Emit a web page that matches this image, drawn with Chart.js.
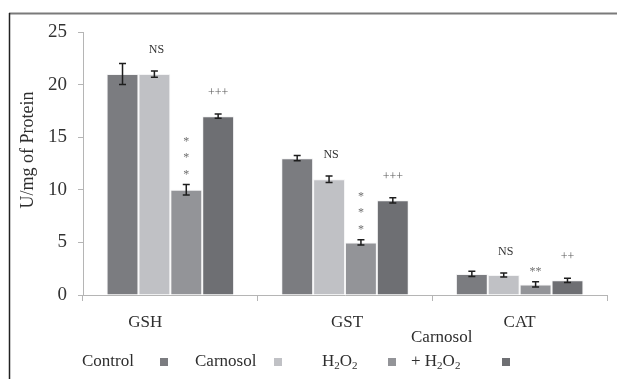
<!DOCTYPE html>
<html>
<head>
<meta charset="utf-8">
<script src="https://cdn.jsdelivr.net/npm/chart.js@4/dist/chart.umd.min.js"></script>
<style>
html,body{margin:0;padding:0;background:#fff;}
canvas{display:block;}
</style>
</head>
<body>
<canvas id="c" width="617" height="379"></canvas>
<script>
const categories = ['GSH', 'GST', 'CAT'];
const seriesNames = ['Control', 'Carnosol', 'H2O2', 'Carnosol + H2O2'];
const seriesColors = ['#7b7c80', '#c0c1c5', '#939498', '#6e6f73'];
const controlValues = [21, 13, 2.0];
const carnosolValues = [21, 11, 1.9];
const h2o2Values = [10, 5, 1.0];
const comboValues = [17, 9, 1.4];
const controlErr = [1.0, 0.25, 0.25];
const carnosolErr = [0.3, 0.3, 0.2];
const h2o2Err = [0.5, 0.25, 0.25];
const comboErr = [0.2, 0.25, 0.2];
const carnosolMarks = ['NS', 'NS', 'NS'];
const h2o2Marks = ['*\n*\n*', '*\n*\n*', '**'];
const comboMarks = ['+++', '+++', '++'];
const yTicks = [0, 5, 10, 15, 20, 25];
const yTitle = 'U/mg of Protein';

const seriesValues = [controlValues, carnosolValues, h2o2Values, comboValues];
const seriesErrors = [controlErr, carnosolErr, h2o2Err, comboErr];
const seriesMarks = [null, carnosolMarks, h2o2Marks, comboMarks];

const SERIF = "'Liberation Serif', 'Times New Roman', serif";

// draw text with digits after letters as subscripts (H2O2)
function chemWidth(ctx, text, size) {
  let w = 0;
  for (let k = 0; k < text.length; k++) {
    const ch = text[k];
    const sub = /[0-9]/.test(ch) && k > 0 && /[A-Za-z]/.test(text[k - 1]);
    ctx.font = (sub ? Math.round(size * 0.65) : size) + 'px ' + SERIF;
    w += ctx.measureText(ch).width;
  }
  return w;
}
function drawChem(ctx, text, x, y, size) {
  let cx = x;
  for (let k = 0; k < text.length; k++) {
    const ch = text[k];
    const sub = /[0-9]/.test(ch) && k > 0 && /[A-Za-z]/.test(text[k - 1]);
    ctx.font = (sub ? Math.round(size * 0.65) : size) + 'px ' + SERIF;
    ctx.fillText(ch, cx, sub ? y + size * 0.25 : y);
    cx += ctx.measureText(ch).width;
  }
}

const decor = {
  id: 'decor',
  beforeDraw(chart) {
    const ctx = chart.ctx;
    ctx.save();
    ctx.fillStyle = '#fff';
    ctx.fillRect(0, 0, chart.width, chart.height);
    ctx.restore();
  },
  afterDraw(chart, args, opts) {
    const ctx = chart.ctx;
    const ys = chart.scales.y, xs = chart.scales.x;
    ctx.save();
    // frame
    ctx.strokeStyle = '#7a7a7a';
    ctx.lineWidth = 2;
    ctx.beginPath(); ctx.moveTo(9, 13.5); ctx.lineTo(chart.width, 13.5); ctx.stroke();
    ctx.strokeStyle = '#222';
    ctx.lineWidth = 1.5;
    ctx.beginPath(); ctx.moveTo(9.5, 13); ctx.lineTo(9.5, chart.height); ctx.stroke();

    // error bars and significance marks
    chart.data.datasets.forEach((ds, di) => {
      const meta = chart.getDatasetMeta(di);
      meta.data.forEach((bar, i) => {
        const v = ds.data[i], e = seriesErrors[di][i];
        const yt = ys.getPixelForValue(v + e), yb = ys.getPixelForValue(v - e);
        ctx.strokeStyle = '#1e1e1e';
        ctx.lineWidth = 1.5;
        ctx.beginPath();
        ctx.moveTo(bar.x, yt); ctx.lineTo(bar.x, yb);
        ctx.moveTo(bar.x - 3.5, yt); ctx.lineTo(bar.x + 3.5, yt);
        ctx.moveTo(bar.x - 3.5, yb); ctx.lineTo(bar.x + 3.5, yb);
        ctx.stroke();
        const marks = seriesMarks[di];
        if (marks && marks[i]) {
          const lines = marks[i].split('\n');
          const star = marks[i][0] === '*';
          const plus = marks[i][0] === '+';
          ctx.font = (star ? 12 : 12) + 'px ' + SERIF;
          ctx.textAlign = 'center';
          ctx.textBaseline = 'middle';
          ctx.fillStyle = star ? '#707070' : (plus ? '#5a5a5a' : '#333');
          let yy = yt - (star ? 10 : 21);
          const dx = marks[i] === 'NS' ? 2 : 0;
          lines.forEach(l => { ctx.fillText(l, bar.x + dx, yy); yy -= 16.5; });
        }
      });
    });

    // category labels
    ctx.fillStyle = '#2e2e2e';
    ctx.font = '17px ' + SERIF;
    ctx.textAlign = 'center';
    ctx.textBaseline = 'middle';
    const shift = opts.labelShift;
    categories.forEach((c, i) => {
      ctx.fillText(c, xs.getPixelForValue(i) + shift[i], 323);
    });

    // y title
    ctx.save();
    ctx.translate(28, 150);
    ctx.rotate(-Math.PI / 2);
    ctx.font = '18px ' + SERIF;
    ctx.fillText(yTitle, 0, 0);
    ctx.restore();

    // legend: text then square
    ctx.textAlign = 'left';
    ctx.textBaseline = 'middle';
    seriesNames.forEach((name, i) => {
      const tx = opts.legendTextX[i];
      const sx = opts.legendSquareX0 + opts.legendSquareStep * i;
      ctx.fillStyle = '#2e2e2e';
      const parts = name.indexOf(' + ') > 0 ? [name.split(' + ')[0], '+ ' + name.split(' + ')[1]] : [name];
      if (parts.length === 2) {
        drawChem(ctx, parts[0], tx, 338, 17);
        drawChem(ctx, parts[1], tx, 362, 17);
      } else {
        drawChem(ctx, parts[0], tx, 362, 17);
      }
      ctx.fillStyle = seriesColors[i];
      ctx.fillRect(sx, 358, 8, 8);
    });
    ctx.restore();
  }
};

new Chart(document.getElementById('c'), {
  type: 'bar',
  data: {
    labels: categories,
    datasets: seriesNames.map((n, i) => ({
      label: n,
      data: seriesValues[i],
      backgroundColor: seriesColors[i],
      borderColor: 'rgba(235,235,237,0.55)',
      borderWidth: 1,
      categoryPercentage: 0.73,
      barPercentage: 1.0
    }))
  },
  options: {
    responsive: false,
    devicePixelRatio: 1,
    animation: false,
    layout: { padding: { top: 32, right: 10, left: 0, bottom: 0 } },
    plugins: {
      legend: { display: false },
      tooltip: { enabled: false },
      decor: {
        labelShift: [-25, 2, 0],
        legendTextX: [82, 195, 322, 411],
        legendSquareX0: 160,
        legendSquareStep: 114
      }
    },
    scales: {
      x: {
        grid: { display: true, drawOnChartArea: false, drawTicks: true, tickLength: 6, color: '#b5b5b5', offset: true },
        border: { display: true, color: '#b5b5b5', width: 1 },
        ticks: { display: false },
        afterFit: s => { s.height = 84; }
      },
      y: {
        min: 0, max: 25,
        afterBuildTicks: s => { s.ticks = yTicks.map(v => ({ value: v })); },
        grid: { display: true, drawOnChartArea: false, drawTicks: true, tickLength: 5, color: '#b5b5b5' },
        border: { display: true, color: '#b5b5b5', width: 1 },
        ticks: { padding: 11, color: '#333', font: { family: SERIF, size: 19 } },
        afterFit: s => { s.width = 83; }
      }
    }
  },
  plugins: [decor]
});
</script>
</body>
</html>
